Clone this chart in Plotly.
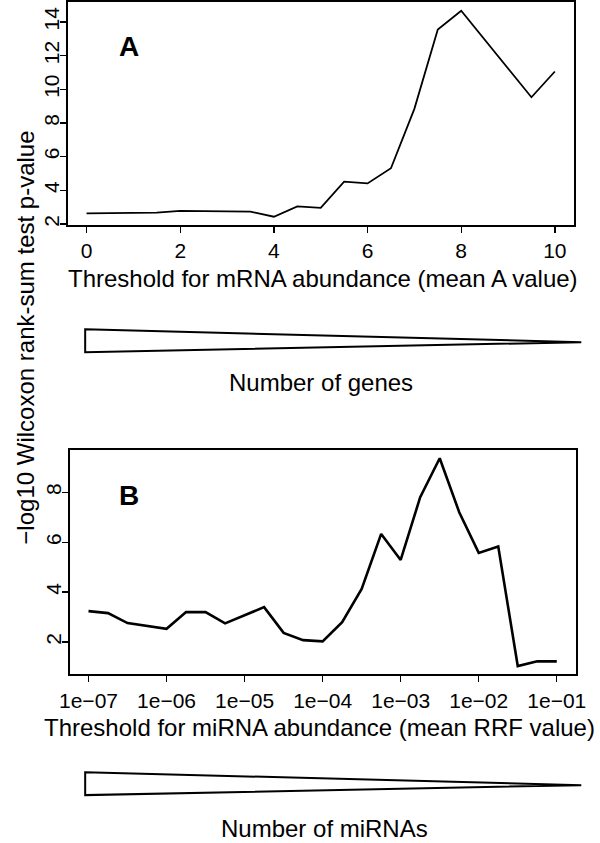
import plotly.graph_objects as go
import numpy as np

W, H = 600, 843

# ---- Data ----
mrna_threshold = [0, 0.5, 1, 1.5, 2, 2.5, 3, 3.5, 4, 4.5, 5, 5.5, 6, 6.5, 7, 7.5, 8, 8.5, 9, 9.5, 10]
mrna_logp = [2.63, 2.63, 2.63, 2.67, 2.78, 2.75, 2.76, 2.73, 2.43, 3.04, 2.96, 4.51, 4.41, 5.31,
             8.84, 13.55, 14.67, 12.96, 11.2, 9.53, 11.06]

mirna_log10_threshold = [-7, -6.75, -6.5, -6.25, -6, -5.75, -5.5, -5.25, -5, -4.75, -4.5, -4.25, -4,
                         -3.75, -3.5, -3.25, -3, -2.75, -2.5, -2.25, -2, -1.75, -1.5, -1.25, -1]
mirna_threshold = [10 ** v for v in mirna_log10_threshold]
mirna_logp = [3.24, 3.16, 2.76, 2.65, 2.53, 3.2, 3.2, 2.75, 3.07, 3.4, 2.37, 2.08, 2.03,
              2.8, 4.13, 6.33, 5.29, 7.8, 9.36, 7.2, 5.57, 5.83, 1.04, 1.23, 1.23]

a_xticks = [0, 2, 4, 6, 8, 10]
a_yticks = [2, 4, 6, 8, 10, 12, 14]
b_xticks = [1e-7, 1e-6, 1e-5, 1e-4, 1e-3, 1e-2, 1e-1]
b_xticklabels = ["1e\u221207", "1e\u221206", "1e\u221205", "1e\u221204", "1e\u221203", "1e\u221202", "1e\u221201"]
b_yticks = [2, 4, 6, 8]

FONT = "Liberation Sans, Arial, Helvetica, sans-serif"


def px(x):
    return x / W


def py(y):
    return 1 - y / H


def pad(lo, hi, f=0.04):
    r = hi - lo
    return [lo - f * r, hi + f * r]


fig = go.Figure()
fig.add_trace(go.Scatter(x=mrna_threshold, y=mrna_logp, mode="lines",
                         line=dict(color="black", width=1.8), xaxis="x", yaxis="y",
                         showlegend=False, hoverinfo="skip"))
fig.add_trace(go.Scatter(x=mirna_threshold, y=mirna_logp, mode="lines",
                         line=dict(color="black", width=2.6), xaxis="x2", yaxis="y2",
                         showlegend=False, hoverinfo="skip"))

axis_common = dict(showline=True, linewidth=2, linecolor="black", mirror=True,
                   ticks="outside", ticklen=6, tickwidth=1.3, tickcolor="black",
                   showgrid=False, zeroline=False,
                   tickfont=dict(family=FONT, size=21, color="black"))

xa_range = pad(min(mrna_threshold), max(mrna_threshold))
ya_range = pad(min(mrna_logp), max(mrna_logp))
lx = np.log10(mirna_threshold)
xb_range = pad(lx.min(), lx.max())
yb_range = pad(min(mirna_logp), max(mirna_logp))

fig.update_layout(
    width=W, height=H, autosize=False,
    margin=dict(l=0, r=0, t=0, b=0),
    paper_bgcolor="white", plot_bgcolor="white",
    font=dict(family=FONT, color="black"),
    xaxis=dict(domain=[px(59), px(584)], range=xa_range, tickvals=a_xticks, anchor="y", **axis_common),
    yaxis=dict(domain=[py(225.5), py(2.5)], range=ya_range, tickvals=a_yticks, tickangle=-90,
               ticklabelstandoff=-8, anchor="x", **axis_common),
    xaxis2=dict(domain=[px(61), px(586)], type="log", range=xb_range, tickvals=b_xticks,
                ticktext=b_xticklabels, anchor="y2", **axis_common),
    yaxis2=dict(domain=[py(676), py(451)], range=yb_range, tickvals=b_yticks, tickangle=-90,
                ticklabelstandoff=-8, anchor="x2", **axis_common),
)

ann = []
def text(x, y, s, size=24, bold=False, angle=0):
    ann.append(dict(x=px(x), y=py(y), xref="paper", yref="paper", text=("<b>%s</b>" % s) if bold else s,
                    showarrow=False, xanchor="center", yanchor="middle", textangle=angle,
                    font=dict(family=FONT, size=size, color="black")))

text(324, 279, "Threshold for mRNA abundance (mean A value)")
text(322, 383, "Number of genes")
text(320, 729, "Threshold for miRNA abundance (mean RRF value)")
text(325, 830, "Number of miRNAs")
text(15, 338, "\u2212log10 Wilcoxon rank-sum test p-value", angle=-90)
text(122, 47, "A", size=28, bold=True)
text(122, 497, "B", size=28, bold=True)
fig.update_layout(annotations=ann)

# Decorative wedges (number of genes / miRNAs decreasing)
for (top, bot, apex) in [(330, 353, 343), (774, 797, 787)]:
    path = "M {} {} L {} {} L {} {} L {} {} Z".format(px(77), py(top), px(592), py(apex), px(77), py(bot), px(77), py(top))
    fig.add_shape(type="path", path=path, xref="paper", yref="paper",
                  line=dict(color="black", width=2), fillcolor="white")

fig.write_html("out.html", config={"displayModeBar": False, "staticPlot": True},
               post_script="document.body.style.margin='0px';document.body.style.overflow='hidden';")
